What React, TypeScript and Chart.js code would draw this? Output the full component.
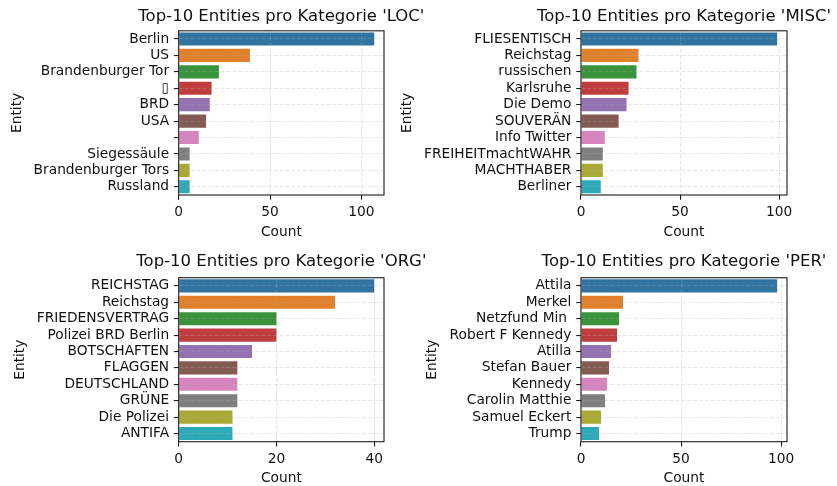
import React, { useEffect, useRef } from 'react';
import { Chart, registerables } from 'chart.js';

Chart.register(...registerables);

// ---- data ----
const locLabels = ['Berlin', 'US', 'Brandenburger Tor', '▯', 'BRD', 'USA', '', 'Siegessäule', 'Brandenburger Tors', 'Russland'];
const locCounts = [107, 39, 22, 18, 17, 15, 11, 6, 6, 6];

const miscLabels = ['FLIESENTISCH', 'Reichstag', 'russischen', 'Karlsruhe', 'Die Demo', 'SOUVERÄN', 'Info Twitter', 'FREIHEITmachtWAHR', 'MACHTHABER', 'Berliner'];
const miscCounts = [99, 29, 28, 24, 23, 19, 12, 11, 11, 10];

const orgLabels = ['REICHSTAG', 'Reichstag', 'FRIEDENSVERTRAG', 'Polizei BRD Berlin', 'BOTSCHAFTEN', 'FLAGGEN', 'DEUTSCHLAND', 'GRÜNE', 'Die Polizei', 'ANTIFA'];
const orgCounts = [40, 32, 20, 20, 15, 12, 12, 12, 11, 11];

const perLabels = ['Attila', 'Merkel', 'Netzfund Min ', 'Robert F Kennedy', 'Atilla', 'Stefan Bauer', 'Kennedy', 'Carolin Matthie', 'Samuel Eckert', 'Trump'];
const perCounts = [98, 21, 19, 18, 15, 14, 13, 12, 10, 9];

const ticks50 = [0, 50, 100];
const ticks20 = [0, 20, 40];

const palette = ['#3274a1', '#e1812c', '#3a923a', '#c03d3e', '#9372b2', '#845b53', '#d684bd', '#7f7f7f', '#a9aa35', '#2eabb8'];

const FONT = 'DejaVu Sans';
const TXT = '#111111';
const GRID = 'rgba(176,176,176,0.3)';

type Row = { padTop: number; titleY: number; padBottom: number; xH: number; xTitlePadBottom: number };
const topRow: Row = { padTop: 30.8, titleY: 17, padBottom: 245.8, xH: 45.2, xTitlePadBottom: 0 };
const bottomRow: Row = { padTop: 277.7, titleY: 262, padBottom: 0, xH: 44.3, xTitlePadBottom: -0.8 };

type PanelCfg = {
  title: string;
  labels: string[];
  values: number[];
  xTicks: number[];
  padLeft: number;
  yW: number;
  padRight: number;
  row: Row;
};

const panels: PanelCfg[] = [
  { title: "Top-10 Entities pro Kategorie 'LOC'", labels: locLabels, values: locCounts, xTicks: ticks50, padLeft: 9.65, yW: 169.05, padRight: 453, row: topRow },
  { title: "Top-10 Entities pro Kategorie 'MISC'", labels: miscLabels, values: miscCounts, xTicks: ticks50, padLeft: 399.25, yW: 181.75, padRight: 50, row: topRow },
  { title: "Top-10 Entities pro Kategorie 'ORG'", labels: orgLabels, values: orgCounts, xTicks: ticks20, padLeft: 12.05, yW: 166.65, padRight: 453, row: bottomRow },
  { title: "Top-10 Entities pro Kategorie 'PER'", labels: perLabels, values: perCounts, xTicks: ticks50, padLeft: 424.25, yW: 156.75, padRight: 50, row: bottomRow },
];

function makeFramePlugin(title: string, titleY: number) {
  return {
    id: 'frameAndTitle',
    afterDraw(chart: any) {
      const { ctx, chartArea: a } = chart;
      ctx.save();
      ctx.setLineDash([]);
      ctx.strokeStyle = '#1a1a1a';
      ctx.lineWidth = 1.1;
      ctx.strokeRect(a.left, a.top, a.right - a.left, a.bottom - a.top);
      ctx.fillStyle = TXT;
      ctx.font = `16.5px "${FONT}"`;
      ctx.textAlign = 'center';
      ctx.textBaseline = 'middle';
      ctx.fillText(title, (a.left + a.right) / 2, titleY);
      ctx.restore();
    },
  };
}

function Panel({ cfg }: { cfg: PanelCfg }) {
  const ref = useRef<HTMLCanvasElement>(null);
  useEffect(() => {
    const maxV = Math.max(...cfg.values) * 1.05;
    const gridCommon = {
      color: GRID,
      lineWidth: 1.1,
      borderDash: [4.1, 1.8],
      drawTicks: true,
      tickLength: 4.8,
      tickColor: '#1a1a1a',
      tickWidth: 1.1,
      tickBorderDash: [],
      offset: false,
      z: 1,
    };
    const chart = new Chart(ref.current!, {
      type: 'bar',
      data: {
        labels: cfg.labels,
        datasets: [
          {
            data: cfg.values,
            backgroundColor: palette,
            borderWidth: 0,
            barPercentage: 0.8,
            categoryPercentage: 1,
          },
        ],
      },
      options: {
        indexAxis: 'y',
        responsive: false,
        animation: false,
        events: [],
        layout: {
          padding: {
            top: cfg.row.padTop,
            bottom: cfg.row.padBottom,
            left: cfg.padLeft,
            right: cfg.padRight,
          },
        },
        plugins: {
          legend: { display: false },
          title: { display: false },
          tooltip: { enabled: false },
        },
        scales: {
          x: {
            type: 'linear',
            position: 'bottom',
            min: 0,
            max: maxV,
            afterBuildTicks: (scale: any) => {
              scale.ticks = cfg.xTicks.map((v) => ({ value: v }));
            },
            afterFit: (scale: any) => {
              scale.height = cfg.row.xH;
            },
            grid: gridCommon as any,
            border: { display: false, dash: [4.1, 1.8] } as any,
            ticks: {
              color: TXT,
              font: { family: FONT, size: 13.75 },
              padding: 4.8,
              maxRotation: 0,
              minRotation: 0,
              autoSkip: false,
            },
            title: {
              display: true,
              text: 'Count',
              color: TXT,
              font: { family: FONT, size: 13.75 },
              padding: { top: 0, bottom: cfg.row.xTitlePadBottom },
            },
          },
          y: {
            type: 'category',
            position: 'left',
            offset: true,
            afterFit: (scale: any) => {
              scale.width = cfg.yW;
            },
            grid: gridCommon as any,
            border: { display: false, dash: [4.1, 1.8] } as any,
            ticks: {
              color: TXT,
              font: { family: FONT, size: 13.75 },
              padding: 4.8,
              autoSkip: false,
            },
            title: {
              display: true,
              text: 'Entity',
              color: TXT,
              font: { family: FONT, size: 13.75 },
              padding: { top: 0, bottom: 0 },
            },
          },
        },
      } as any,
      plugins: [makeFramePlugin(cfg.title, cfg.row.titleY)],
    });
    return () => chart.destroy();
  }, [cfg]);
  return (
    <canvas
      ref={ref}
      width={837}
      height={486}
      style={{ position: 'absolute', left: 0, top: 0, width: 837, height: 486 }}
    />
  );
}

export default function App() {
  return (
    <div style={{ position: 'absolute', left: 0, top: 0, width: 837, height: 486, background: '#ffffff', overflow: 'hidden' }}>
      {panels.map((p, i) => (
        <Panel key={i} cfg={p} />
      ))}
    </div>
  );
}
